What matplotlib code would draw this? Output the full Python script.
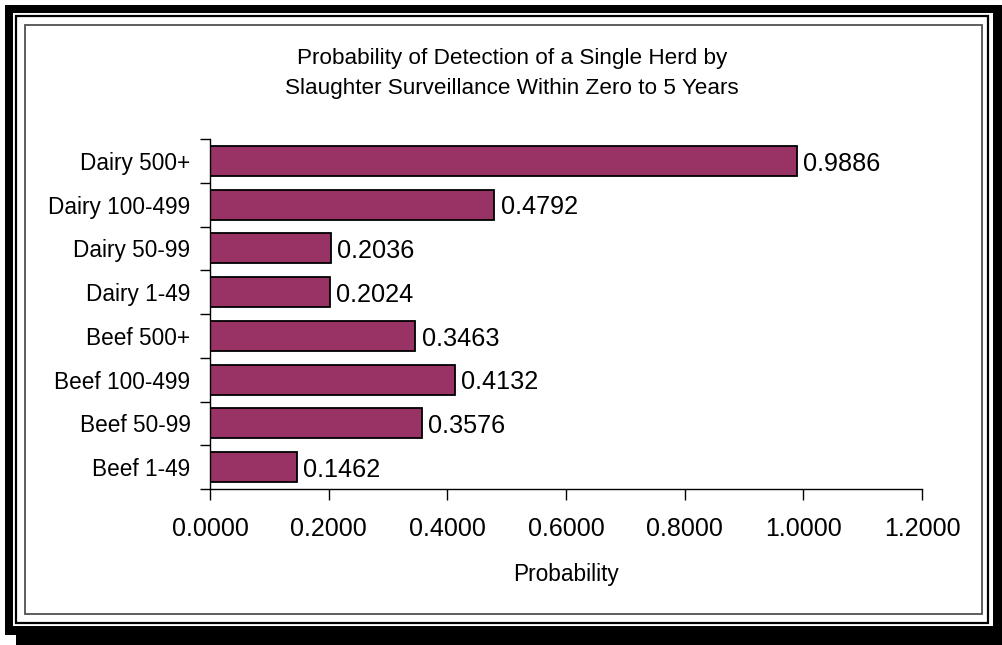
import matplotlib
matplotlib.use("Agg")
import matplotlib.pyplot as plt
from matplotlib.patches import Rectangle
import numpy as np

categories = ['Dairy 500+', 'Dairy 100-499', 'Dairy 50-99', 'Dairy 1-49',
              'Beef 500+', 'Beef 100-499', 'Beef 50-99', 'Beef 1-49']
probabilities = [0.9886, 0.4792, 0.2036, 0.2024, 0.3463, 0.4132, 0.3576, 0.1462]
x_ticks = [0.0, 0.2, 0.4, 0.6, 0.8, 1.0, 1.2]

plt.rcParams['font.family'] = ['Liberation Sans', 'DejaVu Sans']

W, H = 1002, 645
fig = plt.figure(figsize=(W / 100, H / 100), dpi=100)


def box(x0, y0, x1, y1, **kw):
    # rectangle given in pixel coords, origin at top-left
    r = Rectangle((x0 / W, 1 - y1 / H), (x1 - x0) / W, (y1 - y0) / H,
                  transform=fig.transFigure, zorder=-10, **kw)
    fig.patches.append(r)


# frame with shadow and double line
box(16, 16, 1002, 645, facecolor='black', edgecolor='none')
box(5, 5, 1002, 635, facecolor='black', edgecolor='none')
box(13, 13, 993, 626, facecolor='white', edgecolor='none')
box(16, 15.5, 988, 622.5, facecolor='none', edgecolor='black', linewidth=1.6)
box(25, 25, 982, 614, facecolor='none', edgecolor='#505050', linewidth=1.3)

ax = fig.add_axes([210 / W, 156 / H, 712 / W, 350 / H])
ax.set_facecolor('none')

y = np.arange(len(categories))
bars = ax.barh(y, probabilities, height=0.686, color='#993366',
               edgecolor='black', linewidth=1.3)

for yi, v in zip(y, probabilities):
    ax.annotate(f'{v:.4f}', (v, yi), xytext=(4.5, -2), textcoords='offset points',
                ha='left', va='center', fontsize=18.2)

ax.set_xlim(0, 1.2)
ax.set_ylim(len(categories) - 0.5, -0.5)
ax.set_xticks(x_ticks)
ax.set_xticklabels([f'{t:.4f}' for t in x_ticks], fontsize=18)
ax.tick_params(axis='x', length=8, width=1, pad=12)

ax.set_yticks(y)
ax.set_yticklabels(categories, fontsize=16.3)
ax.tick_params(axis='y', which='major', length=0, pad=14)
ax.set_yticks(np.arange(len(categories) + 1) - 0.5, minor=True)
ax.tick_params(axis='y', which='minor', length=7, width=1)

for s in ['top', 'right']:
    ax.spines[s].set_visible(False)
for s in ['left', 'bottom']:
    ax.spines[s].set_linewidth(1)

ax.set_xlabel('Probability', fontsize=16.3, labelpad=16)

fig.text(512 / W, 1 - 48 / H,
         'Probability of Detection of a Single Herd by\nSlaughter Surveillance Within Zero to 5 Years',
         ha='center', va='top', fontsize=16.2, linespacing=1.58)

fig.savefig('out.png', dpi=100)
